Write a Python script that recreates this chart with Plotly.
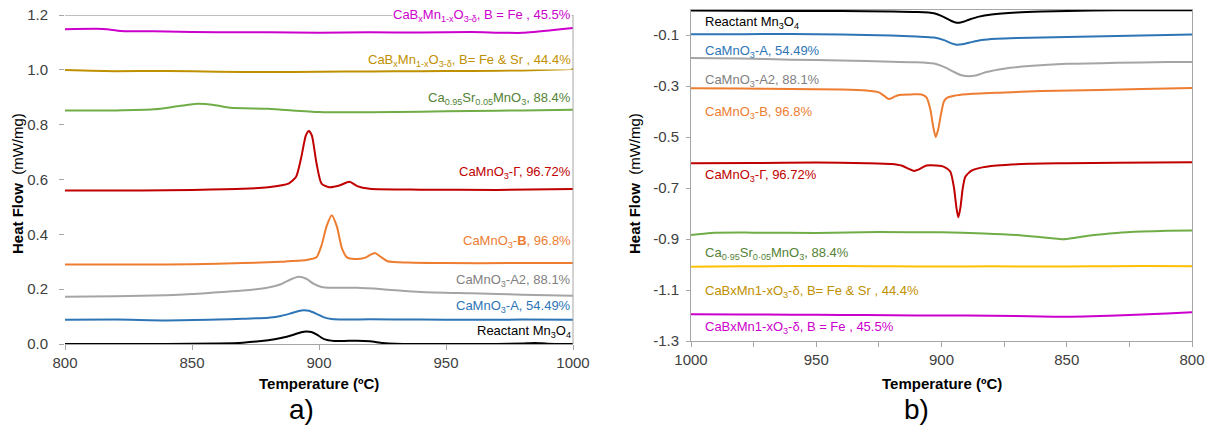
import plotly.graph_objects as go

W, H = 1215, 427

# ---------------- Panel a) heating, 800-1000 C ----------------
a_black_x = [800, 820, 840, 860, 870, 880, 885, 890, 893, 895, 897, 899, 902, 906, 910, 915, 920, 925, 930, 940, 950, 960, 970, 980, 985, 990, 1000]
a_black_y = [0.0, 0.0, 0.0, 0.002, 0.005, 0.014, 0.022, 0.034, 0.043, 0.046, 0.044, 0.035, 0.018, 0.011, 0.011, 0.012, 0.01, 0.004, 0.001, 0.0, 0.0, 0.0, 0.0, 0.002, 0.004, 0.001, 0.0]

a_blue_x = [800, 820, 840, 860, 870, 880, 885, 889, 892, 894, 896, 899, 902, 905, 910, 920, 940, 960, 980, 1000]
a_blue_y = [0.088, 0.089, 0.086, 0.089, 0.092, 0.096, 0.102, 0.112, 0.12, 0.123, 0.121, 0.11, 0.097, 0.091, 0.089, 0.09, 0.089, 0.088, 0.089, 0.088]

a_grey_x = [800, 820, 840, 850, 860, 870, 880, 885, 889, 892, 895, 898, 901, 905, 915, 925, 940, 960, 980, 1000]
a_grey_y = [0.172, 0.174, 0.178, 0.182, 0.189, 0.195, 0.206, 0.218, 0.236, 0.245, 0.238, 0.219, 0.208, 0.205, 0.205, 0.2, 0.19, 0.185, 0.18, 0.176]

a_orange_x = [800, 830, 850, 870, 885, 895, 899, 901, 903, 905, 907, 909, 911, 914, 918, 920, 922, 924, 927, 935, 950, 975, 1000]
a_orange_y = [0.29, 0.29, 0.291, 0.295, 0.3, 0.306, 0.316, 0.36, 0.43, 0.47, 0.43, 0.35, 0.316, 0.31, 0.314, 0.324, 0.332, 0.32, 0.302, 0.297, 0.295, 0.295, 0.295]

a_red_x = [800, 830, 850, 870, 880, 888, 891, 893, 894.8, 896, 897.2, 899, 901, 904, 908, 912, 915, 920, 940, 970, 1000]
a_red_y = [0.56, 0.56, 0.562, 0.566, 0.572, 0.585, 0.61, 0.68, 0.76, 0.777, 0.76, 0.66, 0.585, 0.572, 0.578, 0.592, 0.576, 0.566, 0.563, 0.562, 0.565]

a_green_x = [800, 820, 835, 845, 852, 858, 865, 880, 900, 920, 940, 960, 980, 1000]
a_green_y = [0.852, 0.852, 0.856, 0.868, 0.876, 0.873, 0.862, 0.858, 0.846, 0.845, 0.847, 0.85, 0.852, 0.854]

a_gold_x = [800, 820, 840, 860, 880, 900, 920, 940, 960, 980, 1000]
a_gold_y = [0.999, 0.995, 0.996, 0.993, 0.992, 0.993, 0.994, 0.995, 0.996, 0.998, 1.003]

a_mag_x = [800, 815, 822, 840, 860, 880, 900, 920, 940, 960, 980, 995, 1000]
a_mag_y = [1.148, 1.149, 1.142, 1.14, 1.137, 1.137, 1.135, 1.137, 1.136, 1.138, 1.135, 1.148, 1.153]

a_top_x = [800, 1000]
a_top_y = [1.2, 1.2]

# ---------------- Panel b) cooling, 1000-800 C ----------------
b_black_x = [1000, 980, 960, 940, 920, 910, 903, 899, 896, 894, 892, 889, 885, 880, 870, 860, 840, 820, 800]
b_black_y = [-0.004, -0.005, -0.006, -0.006, -0.008, -0.01, -0.015, -0.03, -0.045, -0.052, -0.05, -0.04, -0.028, -0.02, -0.012, -0.008, -0.004, -0.003, -0.003]

b_blue_x = [1000, 980, 960, 940, 920, 910, 903, 899, 896, 894, 891, 888, 884, 878, 870, 850, 830, 810, 800]
b_blue_y = [-0.097, -0.097, -0.096, -0.098, -0.102, -0.106, -0.11, -0.12, -0.133, -0.138, -0.135, -0.128, -0.12, -0.115, -0.112, -0.108, -0.104, -0.1, -0.098]

b_grey_x = [1000, 980, 960, 940, 920, 910, 903, 899, 895, 892, 889, 886, 882, 875, 865, 850, 830, 810, 800]
b_grey_y = [-0.19, -0.192, -0.197, -0.2, -0.205, -0.207, -0.212, -0.225, -0.245, -0.258, -0.262, -0.258, -0.245, -0.232, -0.222, -0.213, -0.209, -0.206, -0.206]

b_orange_x = [1000, 980, 960, 940, 930, 925, 923, 921, 919, 917, 912, 908, 906, 904.5, 903.3, 902.3, 901.3, 900.2, 899, 897.5, 895, 890, 877, 860, 837, 820, 800]
b_orange_y = [-0.309, -0.31, -0.312, -0.314, -0.318, -0.325, -0.338, -0.351, -0.343, -0.335, -0.333, -0.333, -0.345, -0.39, -0.46, -0.5, -0.47, -0.41, -0.36, -0.345, -0.338, -0.332, -0.326, -0.32, -0.316, -0.312, -0.308]

b_red_x = [1000, 975, 950, 930, 920, 916, 913, 911, 909, 906, 902, 899, 896.5, 895, 894, 893.3, 892.5, 891.5, 890.5, 888, 885, 878, 865, 850, 830, 800]
b_red_y = [-0.603, -0.602, -0.6, -0.603, -0.606, -0.612, -0.625, -0.633, -0.627, -0.612, -0.612, -0.617, -0.635, -0.7, -0.78, -0.815, -0.78, -0.7, -0.656, -0.632, -0.622, -0.612, -0.605, -0.603, -0.601, -0.599]

b_green_x = [1000, 992, 975, 950, 925, 900, 883, 870, 862, 856, 851.5, 847, 840, 830, 820, 810, 800]
b_green_y = [-0.884, -0.876, -0.875, -0.876, -0.873, -0.874, -0.878, -0.884, -0.891, -0.897, -0.901, -0.896, -0.885, -0.876, -0.871, -0.868, -0.867]

b_gold_x = [1000, 980, 960, 940, 920, 900, 880, 860, 840, 820, 800]
b_gold_y = [-1.009, -1.007, -1.006, -1.006, -1.007, -1.008, -1.007, -1.008, -1.007, -1.006, -1.007]

b_mag_x = [1000, 980, 960, 940, 920, 900, 880, 860, 850, 840, 820, 810, 800]
b_mag_y = [-1.195, -1.196, -1.197, -1.198, -1.199, -1.2, -1.201, -1.204, -1.205, -1.203, -1.196, -1.192, -1.187]

a_xticks = [800, 850, 900, 950, 1000]
a_yticks = [0.0, 0.2, 0.4, 0.6, 0.8, 1.0, 1.2]
b_xticks = [1000, 950, 900, 850, 800]
b_yticks = [-0.1, -0.3, -0.5, -0.7, -0.9, -1.1, -1.3]

labels_a = [
    ("CaB<sub>x</sub>Mn<sub>1-x</sub>O<sub>3-δ</sub>, B = Fe , 45.5%", "#CC00CC", 15),
    ("CaB<sub>x</sub>Mn<sub>1-x</sub>O<sub>3-δ</sub>, B= Fe &amp; Sr , 44.4%", "#BF9000", 60.5),
    ("Ca<sub>0.95</sub>Sr<sub>0.05</sub>MnO<sub>3</sub>, 88.4%", "#548235", 98),
    ("CaMnO<sub>3</sub>-Γ, 96.72%", "#C00000", 172.5),
    ("CaMnO<sub>3</sub>-<b>B</b>, 96.8%", "#ED7D31", 242),
    ("CaMnO<sub>3</sub>-A2, 88.1%", "#7F7F7F", 280),
    ("CaMnO<sub>3</sub>-A, 54.49%", "#2E75B6", 306.5),
    ("Reactant Mn<sub>3</sub>O<sub>4</sub>", "#000000", 331.5),
]
labels_b = [
    ("Reactant Mn<sub>3</sub>O<sub>4</sub>", "#000000", 23),
    ("CaMnO<sub>3</sub>-A, 54.49%", "#2E75B6", 51),
    ("CaMnO<sub>3</sub>-A2, 88.1%", "#7F7F7F", 80),
    ("CaMnO<sub>3</sub>-B, 96.8%", "#ED7D31", 112),
    ("CaMnO<sub>3</sub>-Γ, 96.72%", "#C00000", 175),
    ("Ca<sub>0·95</sub>Sr<sub>0·05</sub>MnO<sub>3</sub>, 88.4%", "#548235", 253.5),
    ("CaBxMn1-xO<sub>3</sub>-δ, B= Fe &amp; Sr , 44.4%", "#BF9000", 291.5),
    ("CaBxMn1-xO<sub>3</sub>-δ, B = Fe , 45.5%", "#CC00CC", 327.5),
]

FONT = "Liberation Sans, Arial, sans-serif"
AXC = "#A6A6A6"


def px(x):
    # window pixel -> paper fraction
    return x / W


def py(y):
    return 1 - y / H


fig = go.Figure()


def add(x, y, color, xa, ya, width=2):
    fig.add_trace(go.Scatter(x=x, y=y, mode="lines", xaxis=xa, yaxis=ya,
                             line=dict(color=color, width=width, shape="spline", smoothing=0.6),
                             showlegend=False, hoverinfo="skip"))


add(a_top_x, a_top_y, "#808080", "x", "y", 1.2)
add(a_black_x, a_black_y, "#000000", "x", "y")
add(a_blue_x, a_blue_y, "#2E75B6", "x", "y")
add(a_grey_x, a_grey_y, "#A5A5A5", "x", "y")
add(a_orange_x, a_orange_y, "#ED7D31", "x", "y")
add(a_red_x, a_red_y, "#C00000", "x", "y")
add(a_green_x, a_green_y, "#70AD47", "x", "y")
add(a_gold_x, a_gold_y, "#BF9000", "x", "y")
add(a_mag_x, a_mag_y, "#CC00CC", "x", "y")

add(b_black_x, b_black_y, "#000000", "x2", "y2")
add(b_blue_x, b_blue_y, "#2E75B6", "x2", "y2")
add(b_grey_x, b_grey_y, "#A5A5A5", "x2", "y2")
add(b_orange_x, b_orange_y, "#ED7D31", "x2", "y2")
add(b_red_x, b_red_y, "#C00000", "x2", "y2")
add(b_green_x, b_green_y, "#70AD47", "x2", "y2")
add(b_gold_x, b_gold_y, "#FFC000", "x2", "y2")
add(b_mag_x, b_mag_y, "#CC00CC", "x2", "y2")

tickfont = dict(family=FONT, size=15, color="#404040")

fig.update_layout(
    template="none",
    width=W, height=H, margin=dict(l=0, r=0, t=0, b=0, autoexpand=False),
    paper_bgcolor="white", plot_bgcolor="white",
    xaxis=dict(domain=[px(65), px(573)], range=[800, 1000], tickvals=a_xticks,
               ticktext=[str(v) for v in a_xticks], showgrid=False, zeroline=False,
               showline=True, linecolor=AXC, linewidth=1, ticks="outside", ticklen=5,
               tickcolor=AXC, tickfont=tickfont, anchor="y", automargin=False,
               ticklabeloverflow="allow"),
    yaxis=dict(domain=[py(344), py(15)], range=[0, 1.2], tickvals=a_yticks,
               ticktext=["%.1f" % v for v in a_yticks], showgrid=False, zeroline=False,
               showline=False, ticks="outside", ticklen=5, tickcolor=AXC,
               tickfont=tickfont, ticklabelstandoff=8, anchor="x", automargin=False,
               ticklabeloverflow="allow"),
    xaxis2=dict(domain=[px(691), px(1192)], range=[1000, 800], tickvals=b_xticks,
                ticktext=[str(v) for v in b_xticks], showgrid=False, zeroline=False,
                showline=True, mirror=True, linecolor=AXC, linewidth=1, ticks="outside",
                ticklen=5, tickcolor=AXC, tickfont=tickfont, anchor="y2", automargin=False,
                ticklabeloverflow="allow",
                minor=dict(dtick=25, ticks="outside", ticklen=5, tickcolor=AXC)),
    yaxis2=dict(domain=[py(341), py(9.5)], range=[-1.3, 0.0], tickvals=b_yticks,
                ticktext=["%.1f" % v for v in b_yticks], showgrid=False, zeroline=False,
                showline=True, mirror=True, linecolor=AXC, linewidth=1, ticks="outside",
                ticklen=4, tickcolor=AXC, tickfont=tickfont, ticklabelstandoff=4,
                anchor="x2", automargin=False, ticklabeloverflow="allow"),
)

# right border of panel a)
fig.add_shape(type="line", xref="x domain", yref="y domain", x0=1, x1=1, y0=0, y1=1,
              line=dict(color=AXC, width=1))

ann = []
for text, color, y in labels_a:
    ann.append(dict(text=text, x=px(572), y=py(y), xref="paper", yref="paper",
                    xanchor="right", yanchor="middle", showarrow=False,
                    bgcolor="white", borderpad=0,
                    font=dict(family=FONT, size=13, color=color)))
for text, color, y in labels_b:
    ann.append(dict(text=text, x=px(703), y=py(y), xref="paper", yref="paper",
                    xanchor="left", yanchor="middle", showarrow=False,
                    font=dict(family=FONT, size=13, color=color)))

for cx in (17, 634):
    ann.append(dict(text="<b>Heat Flow</b>  (mW/mg)", x=px(cx), y=py(184), xref="paper",
                    yref="paper", textangle=-90, showarrow=False, xanchor="center",
                    yanchor="middle", font=dict(family=FONT, size=15, color="#000000")))
for cx in (319, 942):
    ann.append(dict(text="<b>Temperature (ºC)</b>", x=px(cx), y=py(383), xref="paper",
                    yref="paper", showarrow=False, xanchor="center", yanchor="middle",
                    font=dict(family=FONT, size=15, color="#000000")))
for t, cx in (("a)", 301), ("b)", 916)):
    ann.append(dict(text=t, x=px(cx), y=py(409), xref="paper", yref="paper",
                    showarrow=False, xanchor="center", yanchor="middle",
                    font=dict(family=FONT, size=28, color="#000000")))

fig.update_layout(annotations=ann)

# remove the default 8px page margin so the figure fills the window exactly
fig.write_html("out.html",
               config={"displayModeBar": False},
               post_script="document.body.style.margin='0px';document.body.style.overflow='hidden';")
